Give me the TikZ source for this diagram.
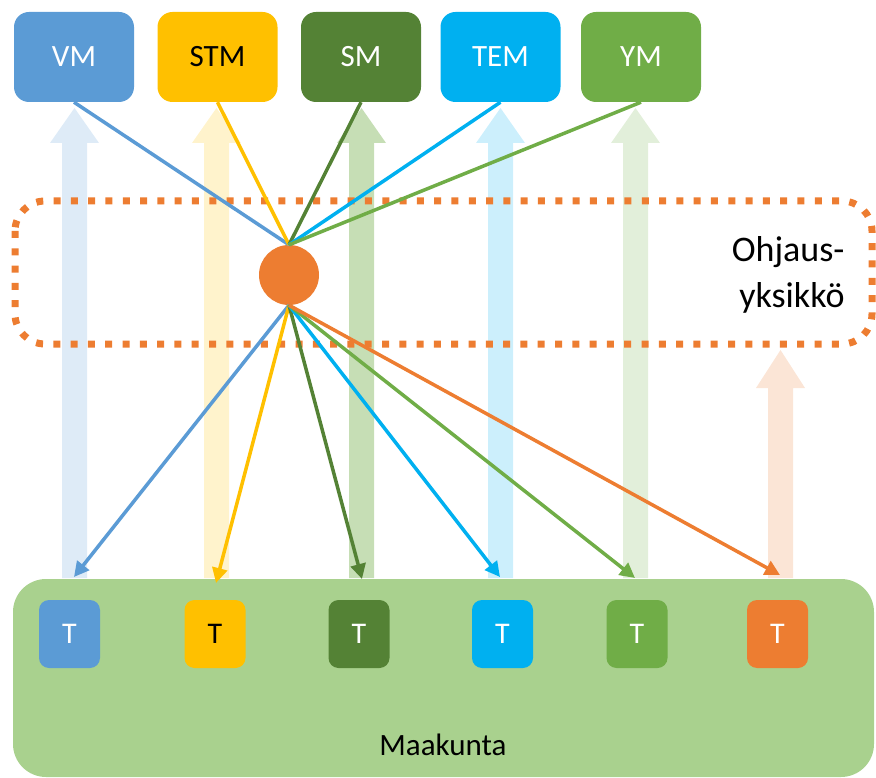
\documentclass[tikz,border=0pt]{standalone}
\usepackage{fontspec}
\setmainfont{Carlito}
\usepackage{tikz}
\usetikzlibrary{arrows.meta}
\definecolor{vmblue}{HTML}{5B9BD5}
\definecolor{stmyellow}{HTML}{FFC000}
\definecolor{smgreen}{HTML}{548235}
\definecolor{temcyan}{HTML}{00B0F0}
\definecolor{ymgreen}{HTML}{70AD47}
\definecolor{hamorange}{HTML}{ED7D31}
\definecolor{maagreen}{HTML}{A9D18E}
\def\bigarrow[#1](#2:#3:#4){\fill[#1] ({#2-12.5}, 578) -- ({#2-12.5}, #4) -- ({#2-24.5}, #4) -- (#2, #3) -- ({#2+24.5}, #4) -- ({#2+12.5}, #4) -- ({#2+12.5}, 578) -- cycle;}
\tikzset{
	topbox/.style={rounded corners=15pt, minimum width=120pt, minimum height=90pt, inner sep=0pt, text=white, font=\fontsize{31}{37}\selectfont},
	tbox/.style={rounded corners=10pt, minimum width=61pt, minimum height=68pt, inner sep=0pt, text=white, font=\fontsize{30}{36}\selectfont},
	link/.style={line width=3.5pt},
	down/.style={line width=3.5pt, -{Triangle[length=15pt, width=15pt]}}
}

\begin{document}
\begin{tikzpicture}[x=1pt, y=-1pt]
		%%%%% START %%%%%
		\useasboundingbox (0, 0) rectangle (876, 778);
		
		\bigarrow[vmblue!20](74.5:108:143);
		\bigarrow[stmyellow!20](216.5:108:143);
		\bigarrow[ymgreen!40](361.5:108:143);
		\bigarrow[temcyan!20](500.5:108:143);
		\bigarrow[ymgreen!20](635.5:108:143);
		\bigarrow[hamorange!20](780.5:350:388);
		
		\draw[line width=7pt, color=hamorange, dash pattern=on 7pt off 10.3pt, rounded corners=30pt] (15, 201) rectangle (872, 344);
		\node[anchor=east, align=right, font=\fontsize{36}{46}\selectfont] (ohjaus) at (848, 275) {Ohjaus-\\yksikkö};
		
		\fill[maagreen, rounded corners=33pt] (13, 579) rectangle (874, 777);
		\node[font=\fontsize{31}{37}\selectfont] (maakunta) at (443, 745) {Maakunta};
		
		\node[tbox, fill=vmblue] (t1) at (69.5, 634) {T};
		\node[tbox, fill=stmyellow, text=black] (t2) at (215, 634) {T};
		\node[tbox, fill=smgreen] (t3) at (359, 634) {T};
		\node[tbox, fill=temcyan] (t4) at (502.5, 634) {T};
		\node[tbox, fill=ymgreen] (t5) at (637, 634) {T};
		\node[tbox, fill=hamorange] (t6) at (777.5, 634) {T};
		
		\node[topbox, fill=vmblue] (vm) at (74, 57) {VM};
		\node[topbox, fill=stmyellow, text=black] (stm) at (217.5, 57) {STM};
		\node[topbox, fill=smgreen] (sm) at (361, 57) {SM};
		\node[topbox, fill=temcyan] (tem) at (500.5, 57) {TEM};
		\node[topbox, fill=ymgreen] (ym) at (641, 57) {YM};
		
		\node[circle, fill=hamorange, minimum size=60pt, inner sep=0pt] (hub) at (289, 275) {};
		
		\draw[link, color=vmblue] (vm.south) -- (hub.north);
		\draw[link, color=stmyellow] (stm.south) -- (hub.north);
		\draw[link, color=smgreen] (sm.south) -- (hub.north);
		\draw[link, color=temcyan] (tem.south) -- (hub.north);
		\draw[link, color=ymgreen] (ym.south) -- (hub.north);
		
		\coordinate (e1) at (74, 577);
		\coordinate (e2) at (216, 583);
		\coordinate (e3) at (362, 579);
		\coordinate (e4) at (500, 577);
		\coordinate (e5) at (635, 578);
		\coordinate (e6) at (780, 575);
		
		\draw[down, color=vmblue] (hub.south) -- (e1);
		\draw[down, color=stmyellow] (hub.south) -- (e2);
		\draw[down, color=smgreen] (hub.south) -- (e3);
		\draw[down, color=temcyan] (hub.south) -- (e4);
		\draw[down, color=ymgreen] (hub.south) -- (e5);
		\draw[down, color=hamorange] (hub.south) -- (e6);
		
		%%%%% END %%%%%
	\end{tikzpicture}
\end{document}
